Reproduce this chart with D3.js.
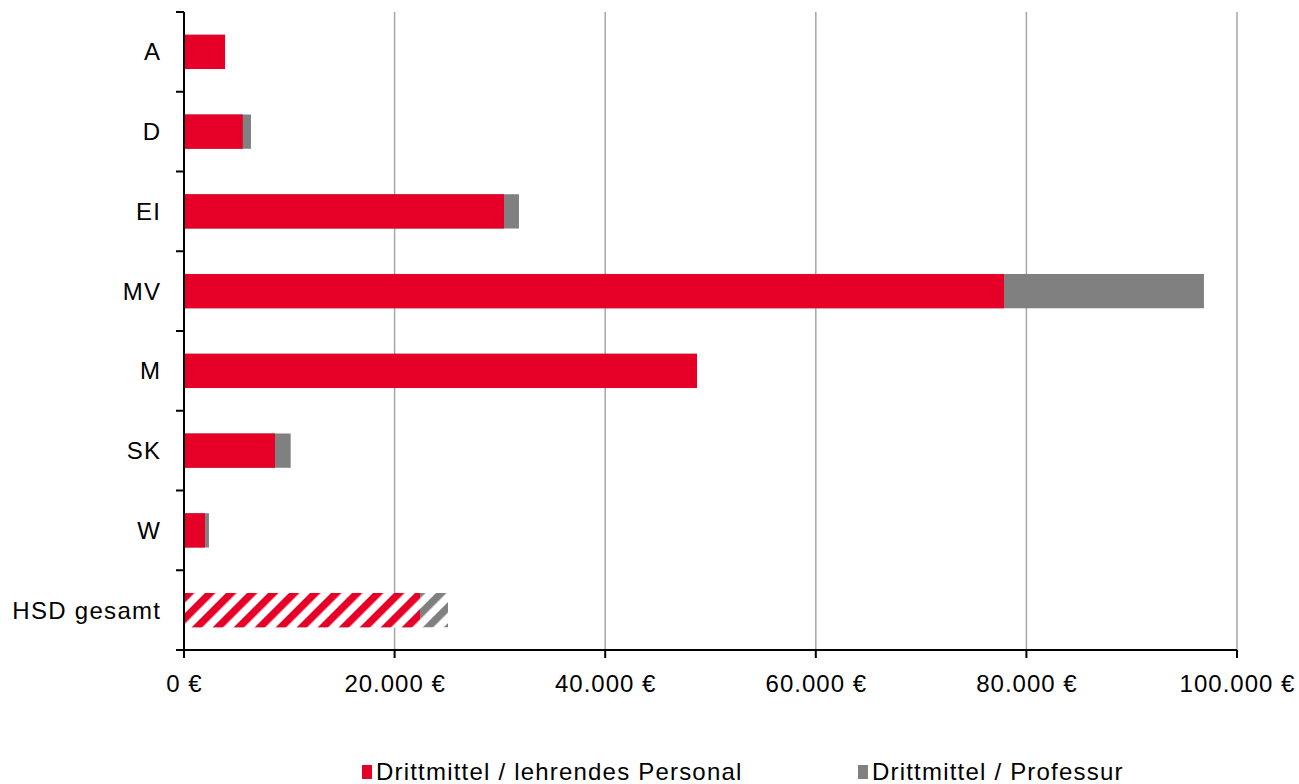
<!DOCTYPE html>
<html><head><meta charset="utf-8">
<script src="https://cdn.jsdelivr.net/npm/d3@7"></script>
<style>body{margin:0;background:#fff;} text{font-family:"Liberation Sans",Arial,sans-serif;}</style>
</head><body>
<script>
const categories = ["A","D","EI","MV","M","SK","W","HSD gesamt"];
const personal = [3900, 5580, 30390, 77870, 48720, 8640, 1990, 22410];
const professur = [3900, 6360, 31810, 96860, 48720, 10130, 2370, 25070];
const xTicks = [0, 20000, 40000, 60000, 80000, 100000];
const seriesNames = ["Drittmittel / lehrendes Personal", "Drittmittel / Professur"];
const colors = ["#E60028", "#808080"];

const W = 1299, H = 784;
const svg = d3.select("body").append("svg").attr("width", W).attr("height", H);
const defs = svg.append("defs");
colors.forEach((c, i) => {
  const p = defs.append("pattern").attr("id", "hatch" + i)
    .attr("patternUnits", "userSpaceOnUse").attr("width", 14.85).attr("height", 14.85)
    .attr("patternTransform", "rotate(45)");
  p.append("rect").attr("width", 14.85).attr("height", 14.85).attr("fill", "#fff");
  p.append("rect").attr("width", 7.4).attr("height", 14.85).attr("fill", c);
});

const pLeft = 184, pRight = 1237, pTop = 12, pBottom = 650;
const x = d3.scaleLinear().domain([0, 100000]).range([pLeft, pRight]);
const y = d3.scaleBand().domain(categories).range([pTop, pBottom]).paddingInner(0.57).paddingOuter(0.285);

// gridlines
svg.append("g").selectAll("line").data(xTicks.slice(1)).join("line")
  .attr("x1", d => x(d)).attr("x2", d => x(d)).attr("y1", pTop).attr("y2", pBottom)
  .attr("stroke", "#a6a6a6").attr("stroke-width", 1.5);

const isTotal = c => c === "HSD gesamt";
// professur (behind)
svg.append("g").selectAll("rect").data(categories).join("rect")
  .attr("x", x(0)).attr("y", d => y(d)).attr("height", y.bandwidth())
  .attr("width", (d, i) => x(professur[i]) - x(0))
  .attr("fill", d => isTotal(d) ? "url(#hatch1)" : colors[1]);
// personal (front)
svg.append("g").selectAll("rect").data(categories).join("rect")
  .attr("x", x(0)).attr("y", d => y(d)).attr("height", y.bandwidth())
  .attr("width", (d, i) => x(personal[i]) - x(0))
  .attr("fill", d => isTotal(d) ? "url(#hatch0)" : colors[0]);

// y axis
const yAxis = svg.append("g");
yAxis.append("line").attr("x1", pLeft).attr("x2", pLeft).attr("y1", pTop).attr("y2", pBottom)
  .attr("stroke", "#000").attr("stroke-width", 2);
const bounds = d3.range(categories.length + 1).map(i => pTop + i * (pBottom - pTop) / categories.length);
yAxis.selectAll("line.t").data(bounds).join("line").attr("class", "t")
  .attr("x1", pLeft - 8).attr("x2", pLeft).attr("y1", d => d).attr("y2", d => d)
  .attr("stroke", "#000").attr("stroke-width", 2);
yAxis.selectAll("text").data(categories).join("text")
  .attr("x", 161.3).attr("y", d => y(d) + y.bandwidth() / 2).attr("dy", "0.35em")
  .attr("text-anchor", "end").attr("font-size", 24).attr("letter-spacing", 1.3)
  .attr("fill", "#000").text(d => d);

// x axis
const fmt = d => d3.format(",")(d).replace(/,/g, ".") + " €";
const xAxis = svg.append("g");
xAxis.append("line").attr("x1", pLeft - 8).attr("x2", pRight).attr("y1", pBottom).attr("y2", pBottom)
  .attr("stroke", "#000").attr("stroke-width", 2);
xAxis.selectAll("line.t").data(xTicks).join("line").attr("class", "t")
  .attr("x1", d => x(d)).attr("x2", d => x(d)).attr("y1", pBottom).attr("y2", pBottom + 8)
  .attr("stroke", "#000").attr("stroke-width", 2);
xAxis.selectAll("text").data(xTicks).join("text")
  .attr("x", d => x(d) + 0.5).attr("y", 692).attr("text-anchor", "middle")
  .attr("font-size", 24).attr("letter-spacing", 1).attr("fill", "#000").text(fmt);

// legend
const leg = svg.append("g");
const legX = [362, 858];
seriesNames.forEach((n, i) => {
  leg.append("rect").attr("x", legX[i]).attr("y", 765).attr("width", 10).attr("height", 14).attr("fill", colors[i]);
  leg.append("text").attr("x", legX[i] + 14).attr("y", 780).attr("font-size", 24)
    .attr("letter-spacing", 1.2).attr("fill", "#000").text(n);
});
</script>
</body></html>
